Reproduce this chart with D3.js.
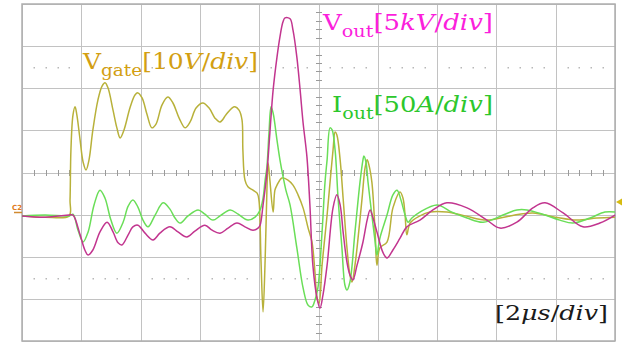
<!DOCTYPE html>
<html>
<head>
<meta charset="utf-8">
<script src="https://cdn.jsdelivr.net/npm/d3@7"></script>
<style>
  html, body { margin: 0; padding: 0; background: #fff; }
  svg { display: block; }
</style>
</head>
<body>
<div id="scope"></div>
<script>
// time in us (2us/div), amplitude in screen divisions (0 = centre line)
const gateTime = [0, 0.78, 1.59, 1.62, 1.65, 1.72, 1.79, 1.85, 1.96, 2.06, 2.16, 2.26, 2.39, 2.56, 2.70, 2.80, 2.90, 3.07, 3.20, 3.31,
  3.44, 3.64, 3.81, 3.91, 4.05, 4.22, 4.38, 4.52, 4.72, 4.92, 5.09, 5.30, 5.50, 5.67, 5.87, 6.10, 6.31, 6.51, 6.68, 6.88,
  7.08, 7.18, 7.32, 7.42, 7.45, 7.52, 7.62, 7.79, 7.93, 7.99, 8.06, 8.13, 8.20, 8.26, 8.30, 8.36, 8.47, 8.53, 8.60, 8.77,
  8.97, 9.14, 9.31, 9.48, 9.65, 9.78, 9.88, 9.95, 10.02, 10.12, 10.29, 10.39, 10.49, 10.56, 10.62, 10.73, 10.83, 10.96, 11.06, 11.13,
  11.23, 11.30, 11.47, 11.57, 11.64, 11.70, 11.80, 11.91, 11.97, 12.07, 12.31, 12.51, 12.75, 12.85, 12.92, 12.98, 13.09, 13.42, 13.76, 14.33,
  14.94, 15.68, 16.46, 17.23, 17.98, 18.72, 19.39, 20.00];
const gateDiv = [-1.03, -1.06, -1.03, -0.65, 0.53, 1.37, 1.56, 1.37, 0.77, 0.25, 0.06, 0.30, 1.01, 1.72, 2.05, 2.13, 2.01, 1.48, 1.06, 0.82,
  1.01, 1.53, 1.84, 1.89, 1.77, 1.37, 1.06, 1.15, 1.60, 1.79, 1.65, 1.29, 1.06, 1.20, 1.53, 1.65, 1.53, 1.29, 1.20, 1.37,
  1.53, 1.56, 1.48, 1.25, 0.53, -0.18, -0.34, -0.42, -0.49, -0.65, -2.08, -3.31, -2.08, -0.42, 0.23, -0.18, -0.94, -0.42, -0.30, -0.13,
  -0.18, -0.30, -0.53, -0.84, -1.32, -1.65, -2.36, -2.98, -3.10, -2.20, -1.01, -0.23, 0.53, 0.96, 0.89, 0.30, -0.61, -1.79, -2.43, -2.60,
  -2.20, -1.79, -0.61, 0.11, 0.30, 0.18, -0.23, -1.41, -2.20, -1.79, -1.65, -0.84, -0.46, -0.61, -1.01, -1.48, -1.20, -1.03, -0.94, -0.94,
  -1.03, -1.13, -1.03, -0.96, -1.06, -1.13, -1.08, -1.06];

const ioutTime = [0, 0.78, 1.59, 1.72, 1.89, 2.06, 2.23, 2.43, 2.63, 2.80, 3.00, 3.20, 3.41, 3.58, 3.74, 3.91, 4.08, 4.25, 4.49, 4.76,
  4.99, 5.16, 5.33, 5.60, 5.94, 6.17, 6.44, 6.68, 7.02, 7.29, 7.62, 7.86, 8.03, 8.13, 8.20, 8.26, 8.33, 8.40, 8.47, 8.60,
  8.70, 8.80, 8.90, 9.04, 9.27, 9.48, 9.65, 9.78, 9.88, 9.98, 10.12, 10.22, 10.29, 10.39, 10.46, 10.56, 10.66, 10.79, 10.89, 10.96,
  11.06, 11.23, 11.40, 11.50, 11.53, 11.60, 11.67, 11.80, 11.91, 11.97, 12.07, 12.31, 12.51, 12.65, 12.78, 12.92, 13.02, 13.15, 13.42, 14.00,
  14.50, 15.01, 15.55, 16.29, 16.69, 17.03, 17.64, 18.14, 18.58, 19.16, 19.66, 20.00];
const ioutDiv = [-1.03, -1.01, -1.03, -0.99, -1.37, -1.65, -1.41, -0.77, -0.42, -0.61, -1.13, -1.44, -1.18, -0.80, -0.65, -0.82, -1.13, -1.29, -1.01, -0.72,
  -0.87, -1.08, -1.20, -1.03, -0.89, -0.99, -1.13, -1.03, -0.89, -0.99, -1.13, -1.06, -0.89, -0.61, -0.18, 0.13, 0.94, 1.56, 1.41, 0.77,
  0.30, -0.08, -0.42, -0.77, -1.79, -2.74, -3.15, -3.19, -3.03, -2.74, -1.41, -0.23, 0.30, 1.06, 1.01, 0.53, -0.61, -1.79, -2.67, -2.79,
  -2.60, -1.41, -0.23, 0.30, 0.39, 0.25, -0.23, -1.01, -1.65, -1.96, -1.56, -1.01, -0.53, -0.42, -0.65, -1.01, -1.18, -1.08, -0.94, -0.77,
  -0.94, -1.08, -1.18, -0.99, -0.89, -0.89, -1.01, -1.13, -1.20, -1.08, -0.94, -0.94];

const voutTime = [0, 0.78, 1.59, 1.72, 1.96, 2.12, 2.23, 2.39, 2.63, 2.87, 3.07, 3.24, 3.37, 3.58, 3.74, 3.91, 4.15, 4.42, 4.65, 4.99,
  5.26, 5.56, 5.83, 6.17, 6.41, 6.68, 6.95, 7.25, 7.52, 7.79, 7.96, 8.03, 8.13, 8.26, 8.36, 8.47, 8.60, 8.70, 8.80, 8.87,
  9.04, 9.14, 9.27, 9.38, 9.48, 9.61, 9.71, 9.81, 9.95, 10.05, 10.15, 10.29, 10.49, 10.62, 10.73, 10.83, 10.96, 11.06, 11.16, 11.30,
  11.50, 11.64, 11.74, 11.84, 11.97, 12.18, 12.31, 12.51, 12.75, 12.98, 13.42, 13.86, 14.33, 15.01, 15.68, 16.12, 16.69, 17.23, 17.64, 18.25,
  18.92, 19.49, 20.00];
const voutDiv = [-1.03, -1.06, -1.01, -1.01, -1.48, -1.84, -1.96, -1.84, -1.41, -1.18, -1.41, -1.67, -1.72, -1.48, -1.29, -1.25, -1.44, -1.60, -1.44, -1.29,
  -1.41, -1.53, -1.39, -1.25, -1.37, -1.44, -1.32, -1.20, -1.29, -1.37, -1.32, -1.25, -0.77, -0.01, 0.94, 1.96, 2.74, 3.22, 3.57, 3.67,
  3.65, 3.38, 2.74, 1.96, 1.18, 0.37, -0.77, -2.20, -2.98, -3.22, -2.91, -2.20, -0.84, -0.53, -0.77, -1.41, -2.13, -2.43, -2.55, -2.20,
  -1.65, -1.13, -0.89, -1.08, -1.41, -1.91, -2.03, -1.84, -1.56, -1.29, -1.13, -0.89, -0.72, -0.84, -1.13, -1.32, -1.18, -0.84, -0.72, -0.96,
  -1.29, -1.20, -1.01];

const timeTicks = [0, 2, 4, 6, 8, 10, 12, 14, 16, 18, 20];
const divTicks = [-4, -3, -2, -1, 0, 1, 2, 3, 4];

const width = 625, height = 342;
const plot = {left: 22, right: 615, top: 4, bottom: 341};

const svg = d3.select("#scope").append("svg")
  .attr("width", width)
  .attr("height", height)
  .style("background", "#fff");

const x = d3.scaleLinear().domain([0, 20]).range([plot.left, plot.right]);
const y = d3.scaleLinear().domain([-4, 4]).range([plot.bottom, plot.top]);

// graticule
const grid = svg.append("g").attr("stroke", "#c2c2c2").attr("stroke-width", 1);
grid.selectAll("line.v")
  .data(timeTicks)
  .enter().append("line")
  .attr("x1", d => Math.round(x(d)) + 0.5).attr("x2", d => Math.round(x(d)) + 0.5)
  .attr("y1", plot.top).attr("y2", plot.bottom);
grid.selectAll("line.h")
  .data(divTicks)
  .enter().append("line")
  .attr("x1", plot.left).attr("x2", plot.right)
  .attr("y1", d => Math.round(y(d)) + 0.5).attr("y2", d => Math.round(y(d)) + 0.5);

// minor ticks on the centre cross, dotted rows at +-2.5 div
const minorT = d3.range(0, 20.001, 0.4).filter(t => Math.abs(t / 2 - Math.round(t / 2)) > 0.01);
const minorV = d3.range(-4, 4.001, 0.2).filter(v => Math.abs(v - Math.round(v)) > 0.01);
const ticks = svg.append("g").attr("stroke", "#9a9a9a").attr("stroke-width", 1);
ticks.selectAll("line.mx")
  .data(minorT)
  .enter().append("line")
  .attr("x1", d => Math.round(x(d)) + 0.5).attr("x2", d => Math.round(x(d)) + 0.5)
  .attr("y1", y(0) - 2.5).attr("y2", y(0) + 3.5);
ticks.selectAll("line.my")
  .data(minorV)
  .enter().append("line")
  .attr("x1", x(10) - 2.5).attr("x2", x(10) + 3.5)
  .attr("y1", d => Math.round(y(d)) + 0.5).attr("y2", d => Math.round(y(d)) + 0.5);

const dots = svg.append("g").attr("fill", "#b8b8b8");
[-2.5, 2.5].forEach(v => {
  dots.selectAll(null)
    .data(minorT)
    .enter().append("rect")
    .attr("x", d => Math.round(x(d)) - 0.5)
    .attr("y", Math.round(y(v)))
    .attr("width", 1.5).attr("height", 1.5);
});

svg.append("rect")
  .attr("x", plot.left).attr("y", plot.top)
  .attr("width", plot.right - plot.left).attr("height", plot.bottom - plot.top)
  .attr("fill", "none").attr("stroke", "#aeaeae").attr("stroke-width", 1.5);

// traces
const line = d3.line()
  .x(d => x(d[0]))
  .y(d => y(d[1]))
  .curve(d3.curveCatmullRom.alpha(0.5));

const traces = [
  {t: gateTime, v: gateDiv, color: "#b8b13a"},
  {t: ioutTime, v: ioutDiv, color: "#6ade58"},
  {t: voutTime, v: voutDiv, color: "#c2358f"}
];
svg.append("g").selectAll("path")
  .data(traces)
  .enter().append("path")
  .attr("d", d => line(d3.zip(d.t, d.v)))
  .attr("fill", "none")
  .attr("stroke", d => d.color)
  .attr("stroke-width", 1.5)
  .attr("stroke-linejoin", "round");

// channel markers
svg.append("text")
  .attr("x", 12).attr("y", 210)
  .attr("font-family", "DejaVu Sans").attr("font-size", 7).attr("font-weight", "bold")
  .attr("fill", "#e07a20").text("C2");
svg.append("line")
  .attr("x1", 14).attr("x2", plot.left).attr("y1", 212.5).attr("y2", 212.5)
  .attr("stroke", "#d08a30").attr("stroke-width", 1.5);
svg.append("path")
  .attr("d", "M616,202L622,198.5L622,205.5Z")
  .attr("fill", "#d6bb10");

// labels: [text, style] pieces; style: "" upright, "s" subscript, "i" italic
const labels = [
  {pieces: [["V", ""], ["gate", "s"], ["[10", ""], ["V", "i"], ["/", ""], ["div", "i"], ["]", ""]],
   color: "#d39f12", x: 83, y: 69, w: 175, size: 22},
  {pieces: [["V", ""], ["out", "s"], ["[5", ""], ["kV", "i"], ["/", ""], ["div", "i"], ["]", ""]],
   color: "#fb1fdc", x: 323, y: 30, w: 170, size: 22},
  {pieces: [["I", ""], ["out", "s"], ["[50", ""], ["A", "i"], ["/", ""], ["div", "i"], ["]", ""]],
   color: "#2cc72c", x: 332, y: 112, w: 161, size: 22},
  {pieces: [["[2", ""], ["μs", "i"], ["/", ""], ["div", "i"], ["]", ""]],
   color: "#1a1a1a", x: 495, y: 320, w: 113, size: 21}
];

labels.forEach(lb => {
  const txt = svg.append("text")
    .attr("x", lb.x).attr("y", lb.y)
    .attr("font-family", "'DejaVu Serif', 'Liberation Serif', serif")
    .attr("font-size", lb.size)
    .attr("fill", lb.color);
  lb.pieces.forEach(p => {
    const ts = txt.append("tspan").text(p[0]);
    if (p[1] === "s") ts.attr("font-size", lb.size * 0.74).attr("dy", 7);
    if (p[1] === "i") ts.attr("font-style", "italic");
    if (p[1] !== "s") ts.attr("y", lb.y);
  });
  // stretch each label to the width it has in the picture
  const w0 = txt.node().getComputedTextLength();
  const s = lb.w / w0;
  txt.attr("transform", `translate(${lb.x},0) scale(${s.toFixed(3)},1) translate(${-lb.x},0)`);
});
</script>
</body>
</html>
